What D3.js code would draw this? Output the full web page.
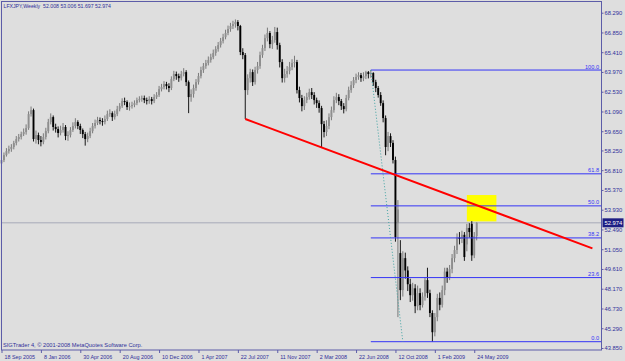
<!DOCTYPE html>
<html>
<head>
<meta charset="utf-8">
<script src="https://cdn.jsdelivr.net/npm/d3@7"></script>
<style>
	body { margin: 0; background: #dedede; }
	svg { display: block; font-family: "Liberation Sans", Arial, sans-serif; }
</style>
</head>
<body>
<svg width="625" height="361"></svg>
<script>
const symbol = "LFXJPY";
const period = "Weekly";
const firstWeek = "18 Sep 2005";
const copyright = "SIGTrader 4, © 2001-2008 MetaQuotes Software Corp.";

const opens = [
	57.30, 57.55, 57.91, 58.20, 58.35, 58.50, 58.79, 59.08, 59.23, 59.44,
	59.59, 59.88, 60.90, 61.19, 59.08, 59.37, 59.01, 58.86, 59.23, 59.66,
	60.32, 60.68, 59.96, 59.81, 59.52, 59.74, 59.96, 59.30, 59.37, 59.74,
	60.03, 60.32, 60.03, 59.74, 59.44, 59.08, 59.30, 59.66, 60.03, 60.25,
	60.47, 60.39, 60.32, 60.54, 60.90, 60.97, 60.68, 60.90, 61.26, 61.48,
	61.85, 61.78, 61.41, 61.48, 61.56, 61.70, 61.92, 61.99, 62.07, 61.92,
	61.85, 61.99, 61.85, 62.14, 62.29, 62.72, 62.87, 63.09, 62.94, 62.80,
	63.45, 63.82, 63.67, 63.52, 63.82, 63.96, 63.23, 62.14, 62.36, 62.80,
	63.23, 63.67, 64.11, 64.40, 64.62, 64.84, 65.05, 65.35, 65.64, 65.93,
	66.22, 66.51, 66.81, 67.10, 67.32, 67.46, 67.61, 67.32, 65.42, 65.20,
	62.65, 63.52, 63.96, 63.23, 64.11, 64.40, 65.20, 65.71, 66.44, 66.81,
	66.00, 66.30, 66.88, 65.93, 64.69, 63.52, 63.82, 64.04, 64.33, 64.62,
	64.69, 62.65, 62.07, 61.48, 61.92, 62.14, 62.50, 62.29, 61.92, 61.70,
	61.34, 60.17, 59.59, 60.03, 60.68, 61.19, 61.92, 62.14, 61.85, 61.48,
	61.26, 62.07, 62.65, 63.01, 63.38, 63.60, 63.74, 63.52, 63.67, 63.96,
	63.82, 63.89, 63.23, 62.80, 62.29, 61.70, 60.61, 58.50, 59.30, 58.80,
	57.55, 52.98, 50.77, 48.07, 50.40, 49.50, 48.50, 47.70, 48.20, 46.90,
	47.85, 46.98, 47.60, 48.80, 47.85, 46.40, 45.00, 46.10, 47.50, 47.00,
	48.07, 49.42, 49.00, 49.60, 50.40, 50.99, 51.90, 51.80, 52.10, 51.40,
	52.60, 52.90, 50.60, 52.008
];
const highs = [
	57.78, 58.10, 58.42, 58.60, 58.71, 58.95, 59.30, 59.45, 59.62, 59.85,
	60.15, 61.10, 61.45, 61.30, 59.70, 59.55, 59.30, 59.50, 59.90, 60.55,
	60.95, 60.80, 60.20, 60.00, 60.05, 60.25, 60.10, 59.65, 59.95, 60.30,
	60.60, 60.45, 60.20, 59.85, 59.60, 59.55, 59.90, 60.25, 60.50, 60.70,
	60.65, 60.60, 60.80, 61.15, 61.25, 61.10, 61.15, 61.50, 61.70, 62.05,
	62.10, 61.90, 61.75, 61.80, 61.90, 62.10, 62.20, 62.25, 62.25, 62.10,
	62.20, 62.15, 62.35, 62.50, 62.95, 63.10, 63.30, 63.25, 63.15, 63.65,
	64.05, 64.00, 63.85, 64.05, 64.25, 64.10, 63.35, 62.70, 63.05, 63.45,
	63.90, 64.35, 64.62, 64.85, 65.10, 65.30, 65.60, 65.85, 66.15, 66.45,
	66.75, 67.05, 67.35, 67.55, 67.70, 67.80, 67.75, 67.40, 65.70, 65.35,
	63.80, 64.20, 64.15, 64.35, 64.70, 65.45, 65.95, 66.70, 67.20, 66.95,
	66.60, 67.25, 67.20, 66.10, 64.90, 64.20, 64.40, 64.70, 64.90, 65.15,
	64.85, 62.90, 62.30, 62.20, 62.45, 62.75, 62.80, 62.50, 62.10, 61.90,
	61.50, 60.40, 60.45, 60.95, 61.45, 62.20, 62.45, 62.35, 62.00, 61.70,
	62.30, 62.90, 63.30, 63.60, 63.85, 63.95, 63.90, 63.95, 64.05, 64.04,
	64.11, 63.95, 63.40, 62.95, 62.50, 61.90, 60.80, 59.60, 59.50, 59.00,
	57.80, 54.63, 51.71, 50.90, 50.80, 49.80, 48.90, 48.60, 48.50, 48.40,
	48.20, 47.90, 49.00, 49.70, 48.10, 46.60, 46.40, 47.80, 47.90, 48.40,
	49.70, 49.70, 49.90, 50.70, 51.30, 52.20, 52.30, 52.40, 52.30, 52.90,
	52.95, 53.10, 52.30, 53.006
];
const lows = [
	57.12, 57.40, 57.80, 58.02, 58.15, 58.33, 58.62, 58.90, 59.05, 59.30,
	59.40, 59.75, 60.72, 58.90, 58.75, 58.70, 58.55, 58.70, 59.05, 59.50,
	60.15, 59.70, 59.55, 59.20, 59.35, 59.55, 59.00, 58.95, 59.20, 59.60,
	59.85, 59.80, 59.45, 59.15, 58.60, 58.85, 59.15, 59.50, 59.85, 60.10,
	60.15, 60.05, 60.15, 60.40, 60.70, 60.40, 60.50, 60.75, 61.10, 61.35,
	61.55, 61.20, 61.15, 61.30, 61.40, 61.55, 61.75, 61.80, 61.70, 61.60,
	61.65, 61.60, 61.70, 62.00, 62.15, 62.55, 62.70, 62.70, 62.50, 62.65,
	63.30, 63.40, 63.25, 63.35, 63.65, 62.95, 60.97, 61.80, 62.10, 62.60,
	63.05, 63.50, 63.90, 64.20, 64.45, 64.65, 64.90, 65.15, 65.45, 65.75,
	66.05, 66.35, 66.65, 66.90, 67.10, 67.20, 67.00, 65.20, 64.90, 60.54,
	62.30, 63.20, 62.95, 63.05, 63.85, 64.20, 65.00, 65.50, 66.20, 65.70,
	65.65, 66.10, 65.60, 64.30, 63.20, 63.20, 63.55, 63.80, 64.10, 64.30,
	62.40, 61.75, 61.10, 61.20, 61.70, 61.95, 62.00, 61.60, 61.35, 61.00,
	58.50, 59.20, 59.30, 59.80, 60.45, 61.00, 61.70, 61.55, 61.20, 60.95,
	61.10, 61.90, 62.45, 62.80, 63.15, 63.40, 63.25, 63.30, 63.45, 63.50,
	63.55, 62.95, 62.50, 62.10, 61.50, 60.30, 57.90, 58.20, 58.50, 57.30,
	51.60, 46.10, 47.34, 47.60, 48.90, 48.00, 47.20, 47.30, 46.39, 46.60,
	46.60, 46.80, 47.30, 47.50, 46.10, 44.31, 44.70, 45.80, 46.60, 46.80,
	47.70, 48.60, 48.80, 49.30, 50.10, 50.70, 51.40, 51.50, 50.20, 50.90,
	51.90, 50.20, 50.40, 51.697
];
const closes = [
	57.55, 57.91, 58.20, 58.35, 58.50, 58.79, 59.08, 59.23, 59.44, 59.59,
	59.88, 60.90, 61.19, 59.08, 59.37, 59.01, 58.86, 59.23, 59.66, 60.32,
	60.68, 59.96, 59.81, 59.52, 59.74, 59.96, 59.30, 59.37, 59.74, 60.03,
	60.32, 60.03, 59.74, 59.44, 59.08, 59.30, 59.66, 60.03, 60.25, 60.47,
	60.39, 60.32, 60.54, 60.90, 60.97, 60.68, 60.90, 61.26, 61.48, 61.85,
	61.78, 61.41, 61.48, 61.56, 61.70, 61.92, 61.99, 62.07, 61.92, 61.85,
	61.99, 61.85, 62.14, 62.29, 62.72, 62.87, 63.09, 62.94, 62.80, 63.45,
	63.82, 63.67, 63.52, 63.82, 63.96, 63.23, 62.14, 62.36, 62.80, 63.23,
	63.67, 64.11, 64.40, 64.62, 64.84, 65.05, 65.35, 65.64, 65.93, 66.22,
	66.51, 66.81, 67.10, 67.32, 67.46, 67.61, 67.32, 65.42, 65.20, 62.65,
	63.52, 63.96, 63.23, 64.11, 64.40, 65.20, 65.71, 66.44, 66.81, 66.00,
	66.30, 66.88, 65.93, 64.69, 63.52, 63.82, 64.04, 64.33, 64.62, 64.69,
	62.65, 62.07, 61.48, 61.92, 62.14, 62.50, 62.29, 61.92, 61.70, 61.34,
	60.17, 59.59, 60.03, 60.68, 61.19, 61.92, 62.14, 61.85, 61.48, 61.26,
	62.07, 62.65, 63.01, 63.38, 63.60, 63.74, 63.52, 63.67, 63.96, 63.82,
	63.89, 63.23, 62.80, 62.29, 61.70, 60.61, 58.50, 59.30, 58.80, 57.55,
	51.93, 53.95, 48.07, 50.40, 49.50, 48.50, 47.70, 48.20, 46.90, 47.85,
	46.98, 47.60, 48.80, 47.85, 46.40, 45.00, 46.10, 47.50, 47.00, 48.07,
	49.42, 49.00, 49.60, 50.40, 50.99, 51.90, 51.80, 52.10, 50.48, 52.60,
	52.30, 50.60, 52.008, 52.974
];

const dateTicks = ["18 Sep 2005", "8 Jan 2006", "30 Apr 2006", "20 Aug 2006", "10 Dec 2006", "1 Apr 2007",
	"22 Jul 2007", "11 Nov 2007", "2 Mar 2008", "22 Jun 2008", "12 Oct 2008", "1 Feb 2009", "24 May 2009"];
const priceTicks = [68.290, 66.850, 65.410, 63.970, 62.530, 61.090, 59.650, 58.250, 56.810,
	55.370, 53.930, 52.490, 51.050, 49.610, 48.170, 46.730, 45.290, 43.850];

// objects drawn on the chart (week = bar number from firstWeek)
const fibLevels = [0, 23.6, 38.2, 50, 61.8, 100];
const fibHigh = { week: 150, price: 64.11 };
const fibLow = { week: 163, price: 44.31 };
const trendLine = [{ week: 99, price: 60.54 }, { week: 240, price: 51.11 }];
const box = { from: 189, to: 201, low: 53.08, high: 55.00 };

const frameColor = "#5c5ca8";
const textColor = "#30309a";
const fibColor = "#3434f6";

function drawChart() {
	const svg = d3.select("svg");
	const parse = d3.utcParse("%e %b %Y");
	const fmt = d3.utcFormat("%-d %b %Y");
	const f3 = d3.format(".3f");
	const start = parse(firstWeek);
	const week = i => d3.utcWeek.offset(start, i);

	const left = 1.5, right = 601.5, top = 1.5, bottom = 350;

	const x = d3.scaleUtc([week(0), week(closes.length - 1)], [1.5, 476.7]);
	const y = d3.scaleLinear([43.85, 68.29], [348, 12.7]);

	svg.append("rect")
		.attr("width", 625).attr("height", 361)
		.attr("fill", "#dedede");

	const last = closes.length - 1;
	const lastY = y(closes[last]);

	// current price line
	svg.append("line")
		.attr("x1", left).attr("x2", right)
		.attr("y1", lastY).attr("y2", lastY)
		.attr("stroke", "#a6a9b8").attr("stroke-width", 1);

	// yellow rectangle
	svg.append("rect")
		.attr("x", x(week(box.from)))
		.attr("y", y(box.high))
		.attr("width", x(week(box.to)) - x(week(box.from)))
		.attr("height", y(box.low) - y(box.high))
		.attr("fill", "#ffff00");

	// candles
	const bars = d3.range(closes.length).map(i => ({
		t: week(i), o: opens[i], h: highs[i], l: lows[i], c: closes[i]
	}));

	const candle = svg.append("g").selectAll("g")
		.data(bars)
		.join("g")
		.attr("fill", d => d.c >= d.o ? "#8e8e8e" : "#000")
		.attr("stroke", d => d.c >= d.o ? "#6e6e6e" : "#000");

	candle.append("line")
		.attr("x1", d => x(d.t)).attr("x2", d => x(d.t))
		.attr("y1", d => y(d.h)).attr("y2", d => y(d.l))
		.attr("stroke-width", 0.9);

	candle.append("rect")
		.attr("stroke", "none")
		.attr("x", d => x(d.t) - 0.95)
		.attr("width", 1.9)
		.attr("y", d => y(Math.max(d.o, d.c)))
		.attr("height", d => Math.max(1, Math.abs(y(d.o) - y(d.c))));

	// fibonacci
	const fx = x(week(fibHigh.week));
	fibLevels.forEach(lv => {
		const py = y(fibLow.price + (fibHigh.price - fibLow.price) * lv / 100);
		svg.append("line")
			.attr("x1", fx).attr("x2", right)
			.attr("y1", py).attr("y2", py)
			.attr("stroke", fibColor).attr("stroke-width", 1);
		svg.append("text")
			.attr("x", 599).attr("y", py - 1.5)
			.attr("text-anchor", "end")
			.attr("font-size", 5.6)
			.attr("fill", fibColor)
			.text(lv.toFixed(1));
	});

	svg.append("line")
		.attr("x1", fx).attr("y1", y(fibHigh.price))
		.attr("x2", x(week(fibLow.week))).attr("y2", y(fibLow.price))
		.attr("stroke", "#3fa3a3").attr("stroke-width", 1)
		.attr("stroke-dasharray", "1,2");

	// trend line
	svg.append("line")
		.attr("x1", x(week(trendLine[0].week))).attr("y1", y(trendLine[0].price))
		.attr("x2", x(week(trendLine[1].week))).attr("y2", y(trendLine[1].price))
		.attr("stroke", "#ff0000").attr("stroke-width", 2);

	// frame
	svg.append("rect")
		.attr("x", left).attr("y", top)
		.attr("width", right - left).attr("height", bottom - top)
		.attr("fill", "none").attr("stroke", frameColor);

	// axes
	const yAxis = d3.axisRight(y)
		.tickValues(priceTicks)
		.tickFormat(f3)
		.tickSize(2).tickPadding(1);

	const gY = svg.append("g")
		.attr("transform", `translate(${right},0)`)
		.call(yAxis);

	const xAxis = d3.axisBottom(x)
		.tickValues(dateTicks.map(parse))
		.tickFormat(fmt)
		.tickSize(3).tickPadding(2);

	const gX = svg.append("g")
		.attr("transform", `translate(0,${bottom})`)
		.call(xAxis);

	[gX, gY].forEach(g => {
		g.select(".domain").remove();
		g.attr("font-family", null);
		g.selectAll("line").attr("stroke", frameColor);
		g.selectAll("text").attr("fill", textColor);
	});
	gY.attr("font-size", 5.8);
	gX.attr("font-size", 5.4);
	gX.selectAll("text").attr("text-anchor", "start").attr("x", 2.5);

	// price label
	svg.append("rect")
		.attr("x", 602.5).attr("y", lastY - 4.5)
		.attr("width", 21).attr("height", 9)
		.attr("fill", "#1e1e84");
	svg.append("text")
		.attr("x", 604.5).attr("y", lastY)
		.attr("dy", "0.32em")
		.attr("font-size", 5.8)
		.attr("fill", "#fff")
		.text(f3(closes[last]));

	// header and footer
	svg.append("text")
		.attr("x", 3.5).attr("y", 8)
		.attr("font-size", 5.2)
		.attr("fill", textColor)
		.style("white-space", "pre")
		.text(`${symbol},${period}  ${f3(opens[last])} ${f3(highs[last])} ${f3(lows[last])} ${f3(closes[last])}`);

	svg.append("text")
		.attr("x", 3).attr("y", 347.3)
		.attr("font-size", 5.7)
		.attr("fill", textColor)
		.text(copyright);
}

window.addEventListener("load", drawChart);
</script>
</body>
</html>
